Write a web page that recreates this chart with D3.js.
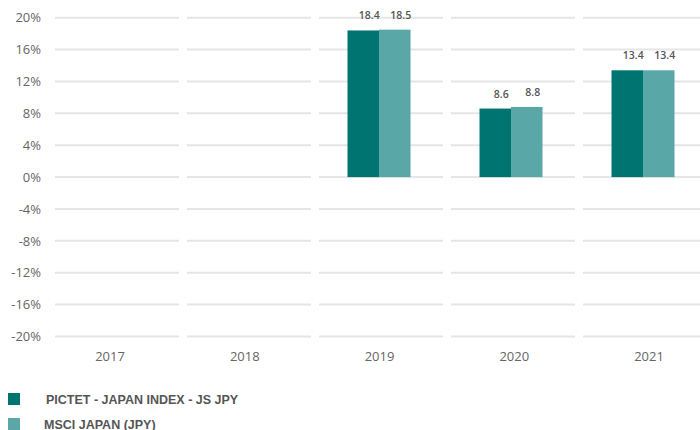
<!DOCTYPE html>
<html><head><meta charset="utf-8">
<script src="https://cdn.jsdelivr.net/npm/d3@7"></script>
<style>body{margin:0;background:#fff}</style>
</head><body>
<svg id="c" width="700" height="430"></svg>
<script>
const years = ["2017","2018","2019","2020","2021"];
const seriesNames = ["PICTET - JAPAN INDEX - JS JPY","MSCI JAPAN (JPY)"];
const pictet = [null,null,18.4,8.6,13.4];
const msci = [null,null,18.5,8.8,13.4];
const yTicks = [20,16,12,8,4,0,-4,-8,-12,-16,-20];
const colors = ["#007470","#5aa7a7"];

const svg = d3.select("#c");
const x = d3.scaleBand().domain(years).range([49,709]).paddingInner(0).paddingOuter(0);
const xLab = d3.scalePoint().domain(years).range([109.5,648.5]);
const y = d3.scaleLinear().domain([-20,20]).range([336.5,17.7]);
const inner = d3.scaleBand().domain([0,1]).range([x.bandwidth()/2-31.5, x.bandwidth()/2+31.5]);

// gridlines segmented per band
const g = svg.append("g");
years.forEach(c=>{
  g.selectAll(null).data(yTicks).enter().append("line")
    .attr("x1", x(c)+6).attr("x2", x(c)+x.bandwidth()-2)
    .attr("y1", d=>y(d)).attr("y2", d=>y(d))
    .attr("stroke","#e5e5e5").attr("stroke-width",2);
});

// y axis labels
const yAxis = d3.axisLeft(y).tickValues(yTicks).tickSize(0).tickPadding(0).tickFormat(d=>d+"%");
const ya = svg.append("g").attr("transform","translate(41,0)").call(yAxis);
ya.select(".domain").remove();
ya.selectAll("text").attr("fill","#666").style("font-family","'Open Sans', sans-serif").style("font-size","13px");

// x axis labels
const xAxis = d3.axisBottom(xLab).tickSize(0).tickPadding(0);
const xa = svg.append("g").attr("transform","translate(0,352)").call(xAxis);
xa.select(".domain").remove();
xa.selectAll("text").attr("fill","#666").style("font-family","'Open Sans', sans-serif").style("font-size","13px");

// bars
const data = [pictet, msci];
data.forEach((arr,si)=>{
  const pts = years.map((c,i)=>({c, v:arr[i]})).filter(d=>d.v!=null);
  svg.selectAll(null).data(pts).enter().append("rect")
    .attr("x", d=>x(d.c)+inner(si)).attr("width", inner.bandwidth())
    .attr("y", d=>y(Math.max(0,d.v))).attr("height", d=>Math.abs(y(d.v)-y(0)))
    .attr("fill", colors[si]);
  svg.selectAll(null).data(pts).enter().append("text")
    .attr("x", d=>x(d.c)+inner(si)+inner.bandwidth()/2+6)
    .attr("y", d=>y(d.v)-11)
    .attr("text-anchor","middle")
    .attr("fill","#555").style("font-family","'Open Sans', sans-serif")
    .style("font-size","10.5px").style("font-weight","600")
    .text(d=>d.v.toFixed(1));
});

// legend
const lg = svg.append("g");
seriesNames.forEach((n,i)=>{
  lg.append("rect").attr("x",8).attr("y",393+i*25).attr("width",12).attr("height",12).attr("fill",colors[i]);
  lg.append("text").attr("x", i===0?46:44).attr("y",404+i*25)
    .attr("fill","#555").style("font-family","'Liberation Sans Narrow', 'Liberation Sans', sans-serif")
    .style("font-size","12.5px").style("font-weight","bold").text(n);
});
</script>
</body></html>
